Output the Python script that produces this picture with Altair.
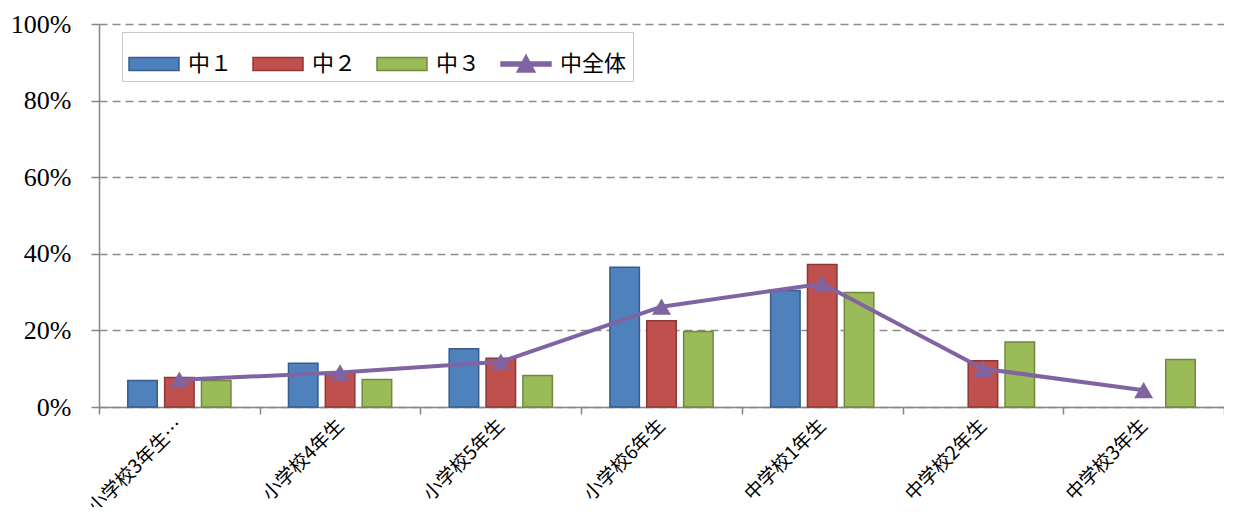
import altair as alt
import pandas as pd

categories = ["小学校3年生…", "小学校4年生", "小学校5年生", "小学校6年生",
              "中学校1年生", "中学校2年生", "中学校3年生"]
series_names = ["中１", "中２", "中３", "中全体"]
chu1 = [0.069, 0.114, 0.152, 0.365, 0.304, 0.0, 0.0]
chu2 = [0.077, 0.090, 0.127, 0.225, 0.372, 0.121, 0.0]
chu3 = [0.069, 0.072, 0.082, 0.197, 0.299, 0.170, 0.124]
chu_all = [0.071, 0.090, 0.118, 0.262, 0.322, 0.100, 0.044]
y_ticks = [0, 0.2, 0.4, 0.6, 0.8, 1.0]

fill_colors = ["#4F81BD", "#C0504D", "#9BBB59", "#8064A2"]
stroke_colors = ["#385D8A", "#8C3836", "#71893F", "#8064A2"]
rect_path = "M-1,-0.26H1V0.26H-1Z"
line_path = "M-1,-0.08H1V0.08H-1Z M-0.36,0.32L0,-0.36L0.36,0.32Z"
shape_range = [rect_path, rect_path, rect_path, line_path]

rows = []
for name, vals in zip(series_names[:3], [chu1, chu2, chu3]):
    for c, v in zip(categories, vals):
        rows.append({"category": c, "series": name, "value": v})
bars_df = pd.DataFrame(rows)
line_df = pd.DataFrame({"category": categories, "series": series_names[3], "value": chu_all})

legend = alt.Legend(
    title=None, orient="none", legendX=23, legendY=8, direction="horizontal",
    symbolSize=2500, symbolStrokeWidth=1.5, symbolOpacity=1,
    labelFont="Noto Sans CJK JP", labelFontSize=22, labelOffset=8, labelColor="black",
    columnPadding=17, padding=6, fillColor="white", strokeColor="#c8c8c8",
)

color_scale = alt.Scale(domain=series_names, range=fill_colors)
stroke_scale = alt.Scale(domain=series_names, range=stroke_colors)
shape_scale = alt.Scale(domain=series_names, range=shape_range)

x_enc = alt.X(
    "category:N", sort=categories,
    scale=alt.Scale(domain=categories, paddingInner=0, paddingOuter=0),
    axis=alt.Axis(
        title=None, labelAngle=-45, labelAlign="right", labelBaseline="middle",
        tickBand="extent", domainColor="#868686", domainWidth=1.5,
        tickColor="#868686", tickWidth=1.5, tickSize=7, grid=False,
        labelFont="Noto Sans CJK JP", labelFontSize=19, labelPadding=8,
        labelColor="black",
    ),
)
y_enc = alt.Y(
    "value:Q", scale=alt.Scale(domain=[0, 1]),
    axis=alt.Axis(
        values=y_ticks, format=".0%", title=None, grid=True,
        gridDash=[8, 5], gridColor="#8c8c8c", gridWidth=1.5,
        domainColor="#868686", domainWidth=1.5, tickColor="#868686",
        tickWidth=1.5, tickSize=8, labelFont="Liberation Serif",
        labelFontSize=26, labelPadding=20, labelColor="black",
    ),
)

bars = alt.Chart(bars_df).transform_filter("datum.value > 0").mark_bar(strokeWidth=1.5).encode(
    x=x_enc,
    xOffset=alt.XOffset("series:N",
                        scale=alt.Scale(domain=series_names[:3], paddingInner=0.2, paddingOuter=0.78)),
    y=y_enc,
    color=alt.Color("series:N", scale=color_scale, legend=legend),
    stroke=alt.Stroke("series:N", scale=stroke_scale, legend=legend),
)

line = alt.Chart(line_df).mark_line(color="#8064A2", strokeWidth=4, strokeJoin="round").encode(
    x=x_enc, y=y_enc,
)

# invisible layer that only carries the legend entry for the line series
legend_points = alt.Chart(line_df).mark_point(filled=True, opacity=0, size=10).encode(
    x=x_enc, y=y_enc,
    color=alt.Color("series:N", scale=color_scale, legend=legend),
    stroke=alt.Stroke("series:N", scale=stroke_scale, legend=legend),
    shape=alt.Shape("series:N", scale=shape_scale, legend=legend),
)

triangles = alt.Chart(line_df).mark_point(
    shape="triangle-up", filled=True, opacity=1, size=360, color="#8064A2"
).encode(x=x_enc, y=y_enc)

chart = alt.layer(bars, line, triangles, legend_points).properties(
    width=1125, height=383,
    autosize=alt.AutoSizeParams(type="none"),
    padding={"left": 91, "top": 16, "right": 0, "bottom": 100},
    background="white",
).configure_view(stroke=None)

chart.save("out.html", embed_options={"renderer": "svg", "actions": False})
